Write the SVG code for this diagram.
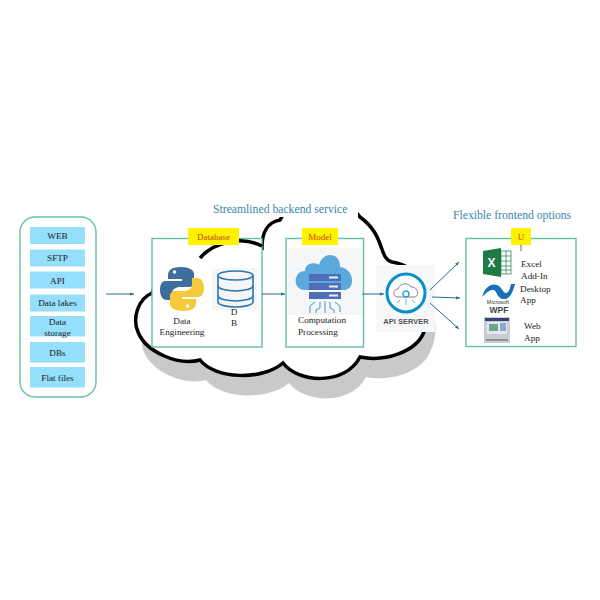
<svg xmlns="http://www.w3.org/2000/svg" width="600" height="600" viewBox="0 0 600 600">
<style>
.t{font-family:"Liberation Serif","Times New Roman",serif;font-size:9.2px;fill:#222;text-anchor:middle}
.s{text-anchor:start}
.h{font-family:"Liberation Serif",serif;font-size:11.7px;fill:#3a86a8}
.i{fill:#93dffc}
.b{fill:#fff;stroke:#66c29c;stroke-width:1.4}
.y{fill:#fff200}
.yt{font-family:"Liberation Serif",serif;font-size:9px;fill:#c0461a;text-anchor:middle}
.c{stroke:#1f6f8b;stroke-width:1;fill:none;marker-end:url(#a)}
.cl{stroke:#000;stroke-width:3.5;fill:#fff}
.d{fill:none;stroke:#2b78b0;stroke-width:1.6}
.bar{fill:#4e6fb8}
.dot{fill:#e8eef8}
.wire{fill:none;stroke:#4a90d0;stroke-width:1}
</style>
<defs>
<marker id="a" markerWidth="5" markerHeight="5" refX="4" refY="2" orient="auto"><path d="M0,0.4L4,2L0,3.6z" fill="#1f6f8b"/></marker>
<path id="cloud" d="M152,293C138,299 132,318 138,332C146,352 178,366 200,360C215,379 262,381 283,363C298,383 345,386 360,357C385,362 416,352 424,332C436,310 430,268 392,262C378,258 386,236 360,217C340,188 295,190 280,220C268,222 262,232 262,247C250,238 215,238 200,258C172,258 158,275 152,293Z"/>
</defs>
<rect width="600" height="600" fill="#fff"/>
<g id="backend-cloud">
<use href="#cloud" x="6" y="20" fill="#c9c9c9"/>
<use href="#cloud" class="cl"/>
<rect x="262" y="185" width="96" height="32" fill="#fff"/>
</g>
<text class="h" x="213" y="213">Streamlined backend service</text>
<text class="h" x="453" y="219">Flexible frontend options</text>
<g id="sources">
<rect x="20" y="217" width="76" height="180" rx="15" fill="#fff" stroke="#66c29c" stroke-width="1.4"/>
<g id="src-web"><rect class="i" x="30" y="227" width="55" height="17"/><text class="t" x="57.5" y="239">WEB</text></g>
<g id="src-sftp"><rect class="i" x="30" y="249.500" width="55" height="17"/><text class="t" x="57.5" y="261">SFTP</text></g>
<g id="src-api"><rect class="i" x="30" y="271.500" width="55" height="17"/><text class="t" x="57.5" y="283.500">API</text></g>
<g id="src-lakes"><rect class="i" x="30" y="294.500" width="55" height="17"/><text class="t" x="57.5" y="306">Data lakes</text></g>
<g id="src-storage"><rect class="i" x="30" y="316" width="55" height="20.500"/><text class="t" x="57.5" y="324.500">Data</text><text class="t" x="57.5" y="335.500">storage</text></g>
<g id="src-dbs"><rect class="i" x="30" y="342" width="55" height="20.500"/><text class="t" x="57.5" y="355.500">DBs</text></g>
<g id="src-flat"><rect class="i" x="30" y="367" width="55" height="20.500"/><text class="t" x="57.5" y="381">Flat files</text></g>
</g>
<g id="database">
<rect class="b" x="152" y="238.500" width="110" height="108.500"/>
<path d="M200,258C213,243 240,235 262,246" fill="none" stroke="#000" stroke-width="3.500"/>
<rect class="y" x="188" y="228" width="51" height="17"/>
<text class="yt" x="213.500" y="240">Database</text>
<path d="M181,267C170,267 168,271 168,276V279H182V281H166C161,281 160,286 160,290C160,295 162,300 167,300H172V294C172,289 176,287 180,287H189C192,287 194,285 194,282V274C194,270 189,267 181,267Z" fill="#3e6e9e"/>
<path d="M183,311C194,311 196,307 196,302V299H182V297H198C203,297 204,292 204,288C204,283 202,278 197,278H192V284C192,289 188,291 184,291H175C172,291 170,293 170,296V304C170,308 175,311 183,311Z" fill="#f5c938"/>
<circle cx="174.500" cy="272" r="1.800" fill="#fff"/><circle cx="187.500" cy="306" r="1.800" fill="#fff"/>
<text class="t" x="182" y="323.500">Data</text>
<text class="t" x="182" y="335">Engineering</text>
<rect x="212" y="268" width="46" height="42" fill="#f4f6f8"/>
<g class="d">
<ellipse cx="235.500" cy="275.500" rx="17.500" ry="4.500"/>
<path d="M218,275.500V285.500C218,289 227,291 235.500,291S253,289 253,285.500V275.500"/>
<path d="M218,285.500V295.500C218,299 227,301 235.500,301S253,299 253,295.500V285.500"/>
<path d="M218,295.500V302C218,305 227,307 235.500,307S253,305 253,302V295.500"/>
</g>
<text class="t" x="234" y="315">D</text>
<text class="t" x="234" y="326">B</text>
</g>
<g id="model">
<rect class="b" x="286" y="238.500" width="77.500" height="108.500"/>
<rect class="y" x="302" y="228" width="36" height="17"/>
<text class="yt" x="320" y="240">Model</text>
<rect x="288" y="248" width="74" height="67" fill="#f4f6f7"/>
<path d="M305,290C292,290 293,271 305,271C305,262 316,262 319,265C323,250 341,253 340,267C354,268 357,290 343,290Z" fill="#59a9dd"/>
<rect class="bar" x="309" y="274" width="32" height="7"/><rect class="bar" x="309" y="283" width="32" height="7"/><rect class="bar" x="309" y="292" width="32" height="7"/>
<g class="dot"><rect x="329" y="276.500" width="9" height="2"/><rect x="329" y="285.500" width="9" height="2"/><rect x="329" y="294.500" width="9" height="2"/></g>
<path class="wire" d="M315,302L310,306V313M320,302V308L316,310V313M325,301V313M330,302V308L334,310V313M335,302L340,306V312"/>
<text class="t s" x="298" y="323">Computation</text>
<text class="t s" x="298" y="335">Processing</text>
</g>
<g id="api-server">
<rect x="376" y="265" width="59" height="67" fill="#f5f7f8"/>
<circle cx="406" cy="293" r="19" fill="#fff" stroke="#0a90c8" stroke-width="3"/>
<path d="M398,297C392,297 393,289 398,289C399,283 409,282 411,287C418,286 420,297 414,297Z" fill="none" stroke="#666" stroke-width="0.800"/>
<circle cx="406" cy="294" r="3" fill="none" stroke="#3aa0d8" stroke-width="1.500"/>
<path d="M400,300L397,303M406,299V305M412,300L415,303" stroke="#3aa0d8" stroke-width="0.800" fill="none"/>
<text x="406" y="324" font-family="'Liberation Sans',sans-serif" font-size="7.500" font-weight="bold" fill="#555" text-anchor="middle">API SERVER</text>
</g>
<g id="ui">
<rect class="b" x="466" y="238.500" width="110" height="108"/>
<rect class="y" x="511" y="228" width="20" height="17"/>
<text class="yt" x="521" y="240">U</text>
<text class="yt" x="521" y="251" style="fill:#a04060">I</text>
<g id="excel-icon">
<rect x="497" y="251" width="14" height="23" fill="#fff" stroke="#2f8a57" stroke-width="0.800"/>
<path d="M501,251V274M506,251V274M497,256H511M497,261H511M497,266H511M497,270H511" stroke="#2f8a57" stroke-width="0.800" fill="none"/>
<path d="M483,251L501,248V277L483,274Z" fill="#1f7a46"/>
<text x="491.500" y="267" font-family="'Liberation Sans',sans-serif" font-size="12" font-weight="bold" fill="#fff" text-anchor="middle">X</text>
</g>
<text class="t s" x="521" y="267">Excel</text>
<text class="t s" x="521" y="278.500">Add-In</text>
<g id="wpf-icon">
<path d="M482,297C485,286 492,283 497,285C502,287 503,293 506,293C509,293 510,288 511,284H515C513,292 510,299 504,299C497,299 497,291 494,290C491,289 487,292 482,297Z" fill="#1770b8"/>
<text x="498" y="304" font-family="'Liberation Sans',sans-serif" font-size="5.500" fill="#333" text-anchor="middle">Microsoft</text>
<text x="499" y="313" font-family="'Liberation Sans',sans-serif" font-size="8.500" font-weight="bold" fill="#444" text-anchor="middle">WPF</text>
</g>
<text class="t s" x="520" y="292">Desktop</text>
<text class="t s" x="520" y="303">App</text>
<g id="web-icon">
<rect x="484" y="317" width="26" height="26" fill="#c9ccd0"/>
<rect x="485" y="318" width="24" height="3" fill="#3a3f78"/>
<rect x="487" y="322" width="20" height="12" fill="#dfeaf0"/>
<rect x="489" y="324" width="9" height="7" fill="#6aa58c"/>
<rect x="500" y="323" width="6" height="8" fill="#8aa8c8"/>
<rect x="486" y="339" width="22" height="2" fill="#8d9196"/>
</g>
<text class="t s" x="524" y="329">Web</text>
<text class="t s" x="524" y="341">App</text>
</g>
<g id="connectors">
<path class="c" d="M106,294H134"/>
<path class="c" d="M262,294H285"/>
<path class="c" d="M362,294H384"/>
<path class="c" d="M430,290L459,262"/>
<path class="c" d="M432,297L460,298"/>
<path class="c" d="M430,303L459,329"/>
</g>
</svg>
